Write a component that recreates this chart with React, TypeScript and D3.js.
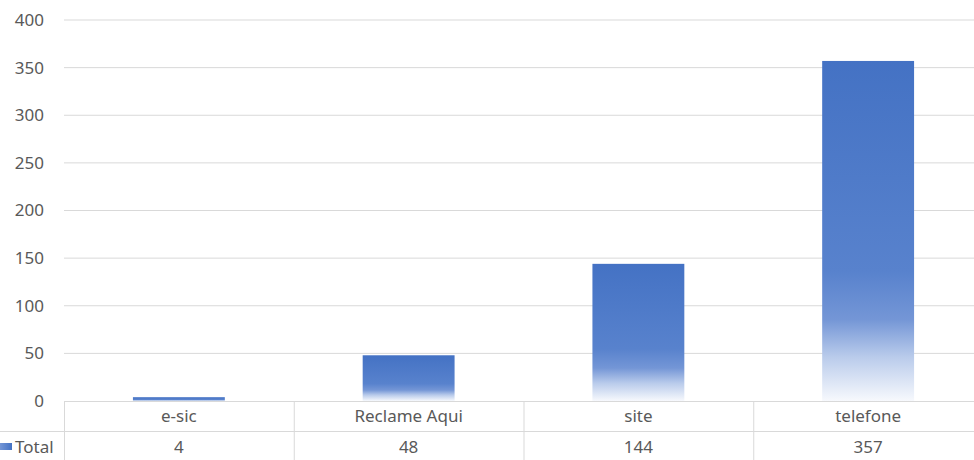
import * as d3 from "d3";

const categories = ["e-sic", "Reclame Aqui", "site", "telefone"];
const totals = [4, 48, 144, 357];
const yTicks = [0, 50, 100, 150, 200, 250, 300, 350, 400];
const seriesName = "Total";

const W = 974;
const H = 460;
const plotLeft = 64;
const plotRight = 983;
const plotTop = 20;
const plotBottom = 401;
const row1 = 431;
const textColor = "#595959";
const lineColor = "#d9d9d9";
const font = "'Noto Sans', 'Open Sans', sans-serif";
const fs = 17;

export default function App() {
  const x = d3.scaleBand<string>().domain(categories).range([plotLeft, plotRight]).paddingInner(0.6).paddingOuter(0.3);
  const band = d3.scaleBand<string>().domain(categories).range([plotLeft, plotRight]);
  const y = d3.scaleLinear().domain([0, 400]).range([plotBottom, plotTop]);

  return (
    <svg width={W} height={H} style={{ position: "fixed", left: 0, top: 0, background: "#fff" }}>
      <defs>
        <linearGradient id="barFill" x1="0" y1="0" x2="0" y2="1">
          <stop offset="0" stopColor="#4472c4" />
          <stop offset="0.62" stopColor="#5882cd" />
          <stop offset="0.76" stopColor="#7496d6" />
          <stop offset="0.87" stopColor="#b9cbeb" />
          <stop offset="1" stopColor="#f7f9fd" />
        </linearGradient>
        <linearGradient id="keyFill" x1="0" y1="0" x2="1" y2="0">
          <stop offset="0" stopColor="#7496d6" />
          <stop offset="1" stopColor="#4472c4" />
        </linearGradient>
      </defs>

      {yTicks.map((t) => (
        <g key={t}>
          {t > 0 && <line x1={plotLeft} x2={plotRight} y1={y(t)} y2={y(t)} stroke={lineColor} strokeWidth={1} />}
          <text x={44} y={y(t)} dy="0.35em" textAnchor="end" fontFamily={font} fontSize={fs} fill={textColor}>
            {t}
          </text>
        </g>
      ))}

      {categories.map((c, i) => (
        <rect
          key={c}
          x={x(c)}
          y={y(totals[i])}
          width={x.bandwidth()}
          height={y(0) - y(totals[i])}
          fill="url(#barFill)"
        />
      ))}

      {/* data table */}
      <line x1={plotLeft} x2={plotRight} y1={plotBottom + 0.5} y2={plotBottom + 0.5} stroke={lineColor} />
      <line x1={0} x2={plotRight} y1={row1 + 0.5} y2={row1 + 0.5} stroke={lineColor} />
      {categories.map((c) => (
        <line key={c} x1={band(c)! + 0.5} x2={band(c)! + 0.5} y1={plotBottom} y2={H} stroke={lineColor} />
      ))}
      {categories.map((c, i) => (
        <g key={c}>
          <text x={band(c)! + band.bandwidth() / 2} y={416} dy="0.35em" textAnchor="middle" fontFamily={font} fontSize={fs} fill={textColor}>
            {c}
          </text>
          <text x={band(c)! + band.bandwidth() / 2} y={447} dy="0.35em" textAnchor="middle" fontFamily={font} fontSize={fs} fill={textColor}>
            {totals[i]}
          </text>
        </g>
      ))}
      <rect x={0} y={443} width={12} height={7} fill="url(#keyFill)" />
      <text x={15} y={447} dy="0.35em" fontFamily={font} fontSize={fs} fill={textColor}>
        {seriesName}
      </text>
    </svg>
  );
}
